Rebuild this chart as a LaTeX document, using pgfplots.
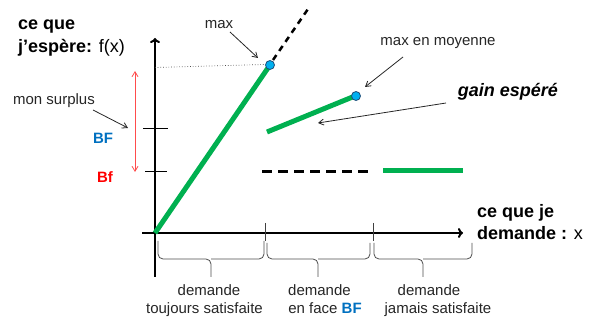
\documentclass[border=0pt]{standalone}
\usepackage{pgfplots}
\pgfplotsset{compat=1.18}
\usepackage{fontspec}
\setmainfont{Liberation Sans}
\usetikzlibrary{arrows.meta}
\definecolor{pgreen}{HTML}{00B050}
\definecolor{pblue}{HTML}{0070C0}
\definecolor{pdot}{HTML}{00B0F0}
\definecolor{pdotb}{HTML}{1F4E79}
\definecolor{ptext}{HTML}{262626}
\definecolor{pred}{HTML}{FF0000}
\begin{document}
\begin{tikzpicture}[
  lab/.style={font=\fontsize{15}{18}\selectfont, text=ptext, inner sep=0pt},
  big/.style={font=\fontsize{18}{22}\selectfont\bfseries, inner sep=0pt, text=black},
  ann/.style={line width=0.8pt, black!85, -{Straight Barb[length=5pt,width=6pt]}},
  brc/.style={line width=0.8pt, black!70, rounded corners=5pt}
]
\begin{axis}[width=600pt,height=323pt,scale only axis,
  xmin=0,xmax=600,ymin=0,ymax=323,y dir=reverse,hide axis,clip=false]
\path (0,0) rectangle (600,323);
% axes
\draw[line width=2pt,-{To[length=5pt,width=10pt]}] (142,233) -- (463,233);
\draw[line width=2pt,-{To[length=5pt,width=10pt]}] (155,277) -- (155,38);
% y ticks
\draw[line width=1pt] (143,129) -- (168,129);
\draw[line width=1pt] (145,172) -- (167,172);
% x ticks
\draw[line width=1pt, black!75] (265,223) -- (265,241);
\draw[line width=1pt, black!75] (373,223) -- (373,241);
% dotted guide to max
\draw[line width=0.7pt, black!70, dotted] (155,67.5) -- (264,64.5);
% data
\addplot[pgreen, line width=5pt] coordinates {(155,233) (270,65)};
\addplot[black, line width=2.5pt, dash pattern=on 6pt off 5pt] coordinates {(273,60) (308,9)};
\addplot[pgreen, line width=5pt] coordinates {(267,132) (355,96)};
\addplot[black, line width=3pt, dash pattern=on 10pt off 6pt] coordinates {(262,172) (370,172)};
\addplot[pgreen, line width=5pt] coordinates {(383,171) (463,171)};
\addplot[only marks, mark=*, mark size=4.5pt, mark options={fill=pdot, draw=pdotb, line width=0.8pt}] coordinates {(270,65) (356,96)};
% red double arrow
\draw[line width=0.8pt, pred!70, {Straight Barb[length=5pt,width=6pt]}-{Straight Barb[length=5pt,width=6pt]}] (135,71) -- (135,172);
% annotation arrows
\draw[ann] (230,32) -- (258,58);
\draw[ann] (93,110) -- (128,128);
\draw[ann] (403,57) -- (365,87);
\draw[ann] (446,103) -- (318,123);
% braces
\draw[brc] (158,241) -- (158,259) -- (211,259) -- (211,277);
\draw[brc] (264,241) -- (264,259) -- (211,259);
\draw[brc] (267,243) -- (267,259) -- (318,259) -- (318,277);
\draw[brc] (370,243) -- (370,259) -- (318,259);
\draw[brc] (374,243) -- (374,259) -- (423,259) -- (423,277);
\draw[brc] (472,243) -- (472,259) -- (423,259);
% texts
\node[big, anchor=base west] at (18,30) {ce que};
\node[big, anchor=base west] at (18,53) {j’espère: \mdseries f(x)};
\node[big, anchor=base west] at (477,218) {ce que je};
\node[big, anchor=base west] at (477,240) {demande : \mdseries x};
\node[lab, anchor=base] at (219,29) {max};
\node[lab, anchor=base] at (438,46) {max en moyenne};
\node[big, anchor=base, font=\fontsize{18}{22}\selectfont\bfseries\itshape] at (508,97) {gain espéré};
\node[lab, anchor=base] at (54,105) {mon surplus};
\node[lab, anchor=base, font=\fontsize{15}{18}\selectfont\bfseries, text=pblue] at (103,144) {BF};
\node[lab, anchor=base, font=\fontsize{15}{18}\selectfont\bfseries, text=pred] at (105,183) {Bf};
\node[lab, anchor=base] at (209,295) {demande};
\node[lab, anchor=base] at (204.5,313) {toujours satisfaite};
\node[lab, anchor=base] at (319.5,295) {demande};
\node[lab, anchor=base] at (325,313) {en face \textcolor{pblue}{\bfseries BF}};
\node[lab, anchor=base] at (429,295) {demande};
\node[lab, anchor=base] at (438,313) {jamais satisfaite};
\end{axis}
\end{tikzpicture}
\end{document}
